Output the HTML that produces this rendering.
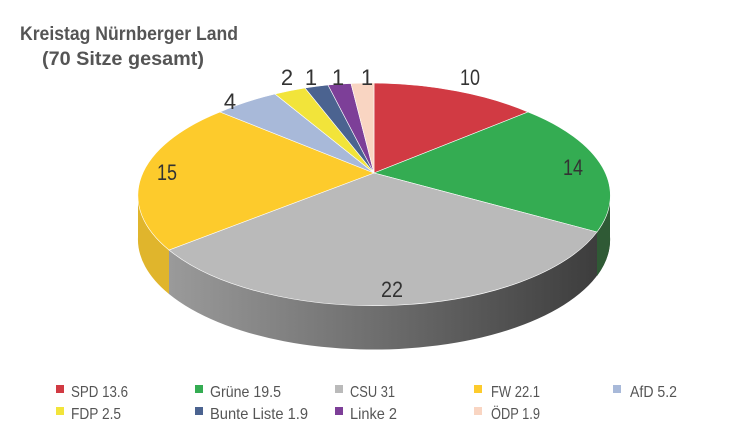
<!DOCTYPE html>
<html><head><meta charset="utf-8"><style>
body{margin:0;background:#fff;}
svg text{font-family:"Liberation Sans Narrow","Liberation Sans",sans-serif;}
</style></head><body>
<svg width="730" height="436" viewBox="0 0 730 436" xmlns="http://www.w3.org/2000/svg">
<defs>
<linearGradient id="g" x1="169" y1="0" x2="610" y2="0" gradientUnits="userSpaceOnUse">
<stop offset="0" stop-color="#9a9a9a"/><stop offset="0.45" stop-color="#707070"/><stop offset="1" stop-color="#3a3a3a"/>
</linearGradient>
</defs>
<text x="20" y="40" font-size="19" font-weight="bold" fill="#555" textLength="218" lengthAdjust="spacingAndGlyphs">Kreistag Nürnberger Land</text>
<text x="42" y="65" font-size="19" font-weight="bold" fill="#555" textLength="162" lengthAdjust="spacingAndGlyphs">(70 Sitze gesamt)</text>
<path d="M169,250 A236,110 0 0 0 610,193 L610,237 A236,110 0 0 1 169,294 Z" fill="url(#g)"/>
<path d="M610,193 A236,110 0 0 1 597,232 L597,276 A236,110 0 0 0 610,237 Z" fill="#2f5a35"/>
<path d="M138,193 A236,110 0 0 0 169,250 L169,294 A236,110 0 0 1 138,237 Z" fill="#e0b52c"/>
<g stroke="#fff" stroke-width="0.6">
<path d="M374,173 L374,83 A236,110 0 0 1 528,112 Z" fill="#d13a43"/>
<path d="M374,173 L528,112 A236,110 0 0 1 597,232 Z" fill="#34ac52"/>
<path d="M374,173 L597,232 A236,110 0 0 1 169,250 Z" fill="#bababa"/>
<path d="M374,173 L169,250 A236,110 0 0 1 220,112 Z" fill="#fdcb2c"/>
<path d="M374,173 L220,112 A236,110 0 0 1 275,94 Z" fill="#a8b9d9"/>
<path d="M374,173 L275,94 A236,110 0 0 1 305,88 Z" fill="#f2e43a"/>
<path d="M374,173 L305,88 A236,110 0 0 1 328,85 Z" fill="#4b6390"/>
<path d="M374,173 L328,85 A236,110 0 0 1 351,83.5 Z" fill="#7d3f98"/>
<path d="M374,173 L351,83.5 A236,110 0 0 1 374,83 Z" fill="#f9d5c2"/>
</g>
<g font-size="22" fill="#333" text-anchor="middle">
<text x="470" y="85" textLength="20" lengthAdjust="spacingAndGlyphs">10</text>
<text x="573" y="175" textLength="20" lengthAdjust="spacingAndGlyphs">14</text>
<text x="392" y="297" textLength="22" lengthAdjust="spacingAndGlyphs">22</text>
<text x="167" y="180" textLength="20" lengthAdjust="spacingAndGlyphs">15</text>
<text x="230" y="109">4</text>
<text x="287" y="85">2</text>
<text x="311" y="85">1</text>
<text x="338" y="85">1</text>
<text x="367" y="85">1</text>
</g>
<g font-size="16" fill="#555" lengthAdjust="spacingAndGlyphs">
<rect x="56" y="385" width="8" height="8" fill="#d13a43"/><text x="71" y="397" textLength="57" lengthAdjust="spacingAndGlyphs">SPD 13.6</text>
<rect x="195" y="385" width="8" height="8" fill="#34ac52"/><text x="210" y="397" textLength="71" lengthAdjust="spacingAndGlyphs">Grüne 19.5</text>
<rect x="335" y="385" width="8" height="8" fill="#bababa"/><text x="350" y="397" textLength="45" lengthAdjust="spacingAndGlyphs">CSU 31</text>
<rect x="474" y="385" width="8" height="8" fill="#fdcb2c"/><text x="491" y="397" textLength="49" lengthAdjust="spacingAndGlyphs">FW 22.1</text>
<rect x="613" y="385" width="8" height="8" fill="#a8b9d9"/><text x="630" y="397" textLength="47" lengthAdjust="spacingAndGlyphs">AfD 5.2</text>
<rect x="56" y="407" width="8" height="8" fill="#f2e43a"/><text x="71" y="419" textLength="50" lengthAdjust="spacingAndGlyphs">FDP 2.5</text>
<rect x="195" y="407" width="8" height="8" fill="#4b6390"/><text x="210" y="419" textLength="98" lengthAdjust="spacingAndGlyphs">Bunte Liste 1.9</text>
<rect x="335" y="407" width="8" height="8" fill="#7d3f98"/><text x="350" y="419" textLength="47" lengthAdjust="spacingAndGlyphs">Linke 2</text>
<rect x="474" y="407" width="8" height="8" fill="#f9d5c2"/><text x="491" y="419" textLength="49" lengthAdjust="spacingAndGlyphs">ÖDP 1.9</text>
</g>
</svg>
</body></html>
